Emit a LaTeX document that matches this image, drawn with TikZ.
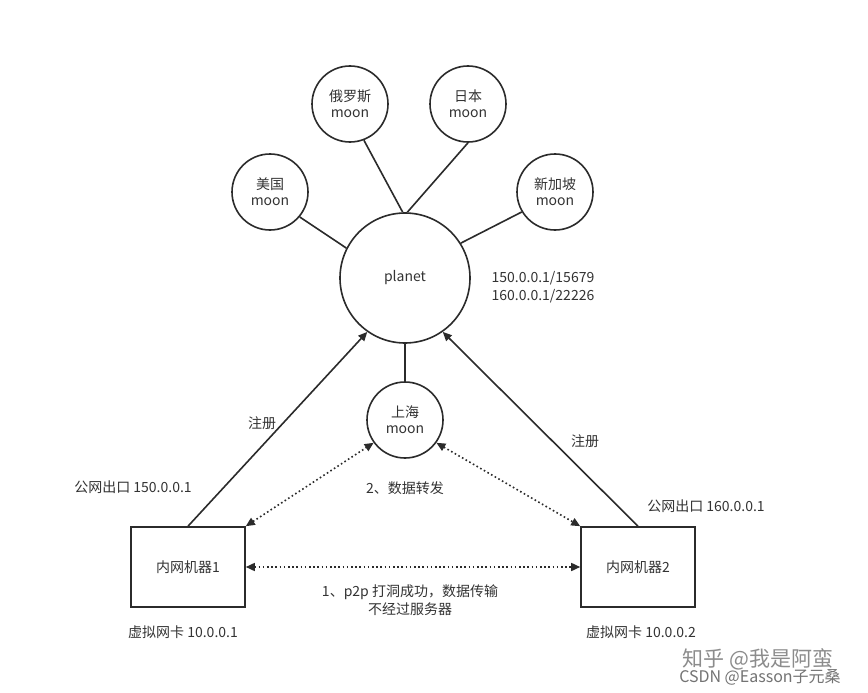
\documentclass[tikz,border=0pt]{standalone}
\usepackage{fontspec}
\setmainfont{Noto Sans CJK SC}
\usetikzlibrary{arrows.meta}
\definecolor{ink}{HTML}{2B2B2B}
\definecolor{txt}{HTML}{333333}
\begin{document}
\begin{tikzpicture}[x=1pt,y=-1pt,
  ln/.style={draw=ink,line width=1.6pt},
  moonc/.style={ln,circle,inner sep=0pt,minimum size=76pt,align=center,font=\fontsize{14}{16}\selectfont,text=txt},
  box/.style={ln,rectangle,minimum width=114pt,minimum height=80pt,font=\fontsize{14}{16}\selectfont,text=txt},
  lbl/.style={font=\fontsize{14}{17.5}\selectfont,text=txt,align=center,inner sep=0pt},
  arr/.style={ln,-{Triangle[length=9pt,width=8pt]}},
  dot/.style={draw=ink,line width=1.6pt,dash pattern=on 1.6pt off 2.6pt,{Triangle[length=9pt,width=8pt]}-{Triangle[length=9pt,width=8pt]}}
]
\useasboundingbox (0,0) rectangle (868,693);
\fill[white] (0,0) rectangle (868,693);
\node[moonc,minimum size=130pt] (planet) at (405,278) {planet};
\node[moonc] (us) at (270,192) {美国\\moon};
\node[moonc] (ru) at (350,104) {俄罗斯\\moon};
\node[moonc] (jp) at (468,104) {日本\\moon};
\node[moonc] (sg) at (555,192) {新加坡\\moon};
\node[moonc] (sh) at (405,420) {上海\\moon};
\node[box] (b1) at (188,567) {内网机器1};
\node[box] (b2) at (638,567) {内网机器2};

\draw[ln] (us.-40) -- (planet.153);
\draw[ln] (ru.-69) -- (planet.92);
\draw[ln] (jp.south) -- (planet.88);
\draw[ln] (sg.211) -- (planet.32);
\draw[ln] (planet.south) -- (sh.north);
\draw[arr] (b1.north) -- (planet.235);
\draw[arr] (b2.north) -- (planet.305);
\draw[dot] (b1.north east) -- (sh.216);
\draw[dot] (sh.324) -- (b2.north west);
\draw[dot] (b1.east) -- (b2.west);

\node[lbl] (t1) at (262,423) {注册};
\node[lbl] (t2) at (585,441) {注册};
\node[lbl] (t3) at (133,487) {公网出口 150.0.0.1};
\node[lbl] (t4) at (706,506) {公网出口 160.0.0.1};
\node[lbl] (t5) at (405,488) {2、数据转发};
\node[lbl,align=left] (t6) at (543,287) {150.0.0.1/15679\\160.0.0.1/22226};
\node[lbl] (t7) at (410,600) {1、p2p 打洞成功，数据传输\\不经过服务器};
\node[lbl] (t8) at (183,632) {虚拟网卡 10.0.0.1};
\node[lbl] (t9) at (641,632) {虚拟网卡 10.0.0.2};
\node[text=black!45,font=\fontsize{21}{22}\selectfont,inner sep=0pt] (w1) at (758,659) {知乎 @我是阿蛮};
\node[text=black!55,font=\fontsize{16}{18}\selectfont,inner sep=0pt] (w2) at (760,677) {CSDN @Easson子元桑};
\end{tikzpicture}
\end{document}
